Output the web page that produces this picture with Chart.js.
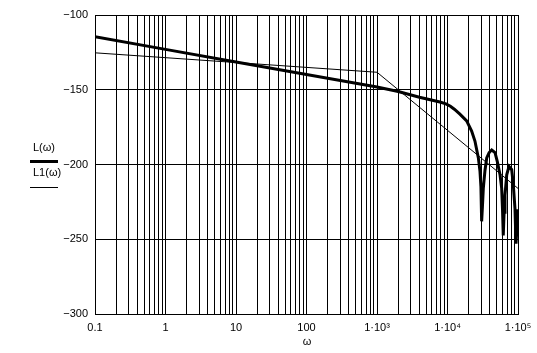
<!DOCTYPE html>
<html>
<head>
<meta charset="utf-8">
<script src="https://cdn.jsdelivr.net/npm/chart.js@4.4.1/dist/chart.umd.min.js"></script>
<style>
  html, body { margin: 0; padding: 0; background: #fff; }
  #wrap { width: 537px; height: 353px; }
</style>
</head>
<body>
<div id="wrap"><canvas id="canvas"></canvas></div>
<script>
// L(omega) - thick curve
var lOmega = [0.1, 1, 10, 100, 1000, 2000, 4000, 7800, 9500, 11000, 12500, 15000, 18700, 22000, 24500, 27400, 28900,
    29800, 30500, 31300, 32200, 34000, 36000, 39000, 42400, 47200, 50800, 55600, 58700, 60300, 61800,
    63500, 65400, 69200, 74500, 81500, 85800, 90600, 93700, 100000];
var lValues = [-114.5, -123, -131.4, -139.8, -148.2, -151.2, -155, -158.2, -159.4, -161, -163, -166.3, -170.8, -177.6, -184.3, -195.6, -204.6,
    -215, -238, -228, -216, -204, -195.6, -192, -190.3, -192, -197.9, -206.9, -216, -230, -247.4,
    -232, -220.4, -206.9, -201.3, -203.5, -213.6, -229.4, -253, -230];

// L1(omega) - thin asymptote
var l1Omega = [0.1, 1000, 100000];
var l1Values = [-125.3, -138.3, -216];

var xDecades = [0.1, 1, 10, 100, 1000, 10000, 100000];
var xDecadeLabels = ["0.1", "1", "10", "100", "1\u00B710\u00B3", "1\u00B710\u2074", "1\u00B710\u2075"];

function pts(xs, ys) {
    return xs.map(function (x, i) { return { x: x, y: ys[i] }; });
}

var FONT = "Liberation Sans, Arial, sans-serif";

var sideLegend = {
    id: 'sideLegend',
    afterDraw: function (chart) {
        var ctx = chart.ctx;
        ctx.save();
        ctx.fillStyle = '#000';
        ctx.strokeStyle = '#000';
        ctx.font = '11px ' + FONT;
        ctx.textAlign = 'left';
        ctx.textBaseline = 'middle';
        ctx.fillText('L(\u03C9)', 33, 148);
        ctx.lineWidth = 3;
        ctx.beginPath(); ctx.moveTo(30, 161.5); ctx.lineTo(58, 161.5); ctx.stroke();
        ctx.fillText('L1(\u03C9)', 33, 173);
        ctx.lineWidth = 1;
        ctx.beginPath(); ctx.moveTo(30, 187.5); ctx.lineTo(58, 187.5); ctx.stroke();
        ctx.textAlign = 'center';
        ctx.fillText('\u03C9', 307, 342);
        ctx.restore();
    }
};

var ctx = document.getElementById("canvas").getContext("2d");
var pChart = new Chart(ctx, {
    type: 'line',
    data: {
        datasets: [{
            label: 'L(\u03C9)',
            data: pts(lOmega, lValues),
            borderColor: '#000',
            borderWidth: 3,
            pointRadius: 0,
            tension: 0,
            fill: false
        }, {
            label: 'L1(\u03C9)',
            data: pts(l1Omega, l1Values),
            borderColor: '#000',
            borderWidth: 1,
            pointRadius: 0,
            tension: 0,
            fill: false
        }]
    },
    options: {
        responsive: true,
        maintainAspectRatio: false,
        animation: false,
        layout: { padding: { left: 0, right: 19, top: 15, bottom: 0 } },
        plugins: {
            legend: { display: false },
            tooltip: { enabled: false }
        },
        scales: {
            x: {
                type: 'logarithmic',
                min: 0.1,
                max: 100000,
                afterBuildTicks: function (scale) {
                    var t = [];
                    for (var d = -1; d < 5; d++) {
                        for (var m = 1; m < 10; m++) {
                            t.push({ value: m * Math.pow(10, d) });
                        }
                    }
                    t.push({ value: 100000 });
                    scale.ticks = t;
                },
                afterFit: function (scale) {
                    scale.height = 39;
                    scale.paddingLeft = 0; scale.paddingRight = 0;
                },
                ticks: {
                    autoSkip: false,
                    maxRotation: 0,
                    padding: 7,
                    color: '#000',
                    font: { family: FONT, size: 11 },
                    callback: function (v) {
                        for (var i = 0; i < xDecades.length; i++) {
                            if (Math.abs(v / xDecades[i] - 1) < 1e-6) return xDecadeLabels[i];
                        }
                        return '';
                    }
                },
                grid: { color: '#000', lineWidth: 1, drawTicks: false },
                border: { color: '#000', width: 1 }
            },
            y: {
                min: -300,
                max: -100,
                afterFit: function (scale) {
                    scale.width = 95;
                    scale.paddingTop = 0; scale.paddingBottom = 0;
                },
                ticks: {
                    stepSize: 50,
                    padding: 7,
                    color: '#000',
                    font: { family: FONT, size: 11 },
                    callback: function (v) { return String(v).replace('-', '\u2212'); }
                },
                grid: { color: '#000', lineWidth: 1, drawTicks: false },
                border: { color: '#000', width: 1 }
            }
        }
    },
    plugins: [sideLegend]
});
</script>
</body>
</html>
